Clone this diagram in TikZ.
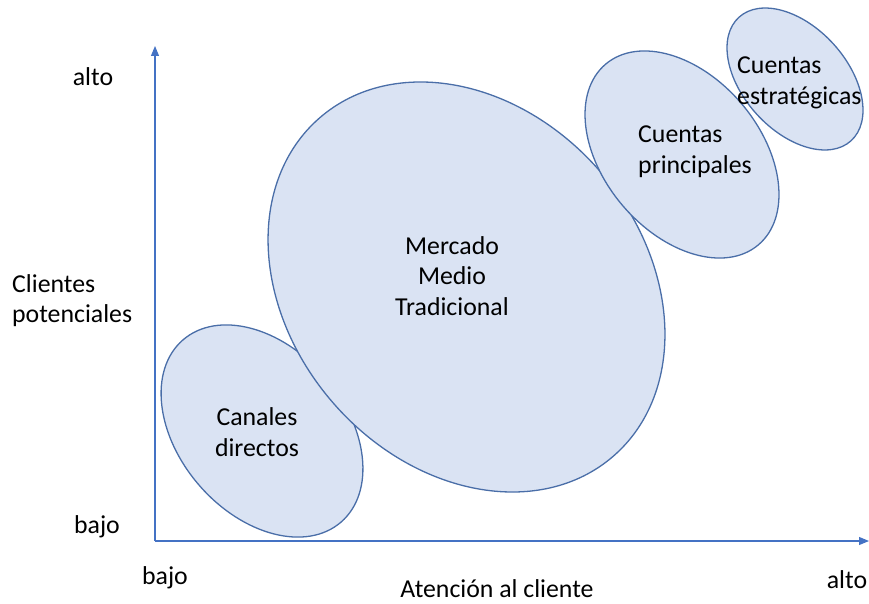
\documentclass[tikz,border=0pt]{standalone}
\usepackage{fontspec}
\setmainfont{Carlito}
\usetikzlibrary{arrows.meta}
\definecolor{ellfill}{HTML}{DAE3F3}
\definecolor{elldraw}{HTML}{4A6EA8}
\definecolor{axisblue}{HTML}{4472C4}
\begin{document}
\begin{tikzpicture}[x=1pt,y=-1pt,
  ell/.style={fill=ellfill,draw=elldraw,line width=1.3pt},
  axis/.style={draw=axisblue,line width=1.1pt,-{Triangle[length=10pt,width=8pt]}},
  lbl/.style={font=\fontsize{25.8}{30.5}\selectfont,inner sep=0pt,text=black}]
\useasboundingbox (0,0) rectangle (869,604);
% axes
\coordinate (origin) at (155,541);
\coordinate (ytop) at (155,46);
\coordinate (xend) at (869,541);
\draw[axis] (origin) -- (ytop);
\draw[axis] (origin) -- (xend);
% ellipses
\draw[ell] (262,431) ellipse [x radius=120.6, y radius=83, rotate=-49];
\draw[ell] (466.5,287) ellipse [x radius=224, y radius=176.7, rotate=-49];
\draw[ell] (682,154.5) ellipse [x radius=118.3, y radius=78.3, rotate=-49.8];
\draw[ell] (795,79) ellipse [x radius=83.4, y radius=52, rotate=-47.8];
% ellipse labels
\node[lbl,align=center] (canales) at (257,432) {Canales\\directos};
\node[lbl,align=center] (mercado) at (452,276) {Mercado\\Medio\\Tradicional};
\node[lbl,align=left,anchor=west] (principales) at (638,151.5) {Cuentas\\principales};
\node[lbl,align=left,anchor=west] (estrategicas) at (737,83) {Cuentas\\estratégicas};
% axis labels
\node[lbl] (ahigh) at (93,77) {alto};
\node[lbl,align=left,anchor=west] (clientes) at (12,300.5) {Clientes\\potenciales};
\node[lbl] (blow) at (97,527) {bajo};
\node[lbl] (xlow) at (165,578) {bajo};
\node[lbl] (xlabel) at (497,589) {Atención al cliente};
\node[lbl] (xhigh) at (847,580) {alto};
\end{tikzpicture}
\end{document}
